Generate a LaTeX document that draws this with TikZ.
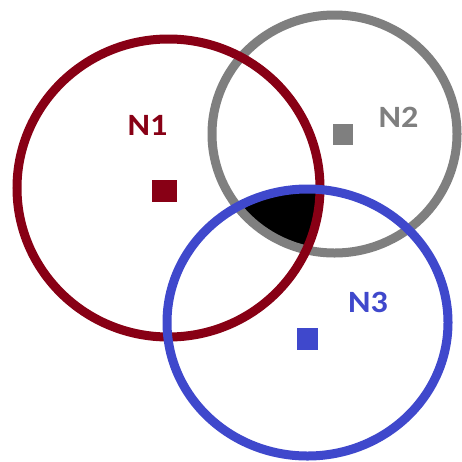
\documentclass[tikz,border=0pt]{standalone}
\usepackage{fontspec}
\setmainfont{Carlito}[FakeStretch=1.1]
\usetikzlibrary{positioning}
\definecolor{myred}{HTML}{880015}
\definecolor{mygray}{HTML}{7F7F7F}
\definecolor{myblue}{HTML}{3F48CC}

\begin{document}
\begin{tikzpicture}[x=1pt, y=-1pt,
  ring/.style={line width=9pt},
  sq/.style={inner sep=0pt, minimum width=22pt, minimum height=22pt},
  lab/.style={font=\fontsize{31}{31}\selectfont\bfseries}
]
\useasboundingbox (0,0) rectangle (462,461);
\fill[white] (0,0) rectangle (462,461);

% centres of the ranges
\coordinate (c1) at (168.5,188);
\coordinate (c2) at (334.5,134);
\coordinate (c3) at (307.5,322.5);

% common part of the three ranges
\begin{scope}
  \clip (c1) ellipse [x radius=151.5, y radius=149];
  \clip (c2) ellipse [x radius=122.5, y radius=119];
  \fill[black] (c3) ellipse [x radius=140.5, y radius=133.5];
\end{scope}

\draw[ring, mygray] (c2) ellipse [x radius=122.5, y radius=119];
\draw[ring, myred] (c1) ellipse [x radius=151.5, y radius=149];
\draw[ring, myblue] (c3) ellipse [x radius=140.5, y radius=133.5];

\node[sq, fill=myred, minimum width=25pt] (n1) at (164.5,191) {};
\node[sq, fill=mygray, minimum width=20pt, minimum height=21pt] (n2) at (343,134) {};
\node[sq, fill=myblue, minimum width=21pt] (n3) at (307,338.5) {};

\node[lab, text=myred] (t1) at (147.5,125) {N1};
\node[lab, text=mygray] (t2) at (398.5,117) {N2};
\node[lab, text=myblue] (t3) at (368,302) {N3};
\end{tikzpicture}
\end{document}
